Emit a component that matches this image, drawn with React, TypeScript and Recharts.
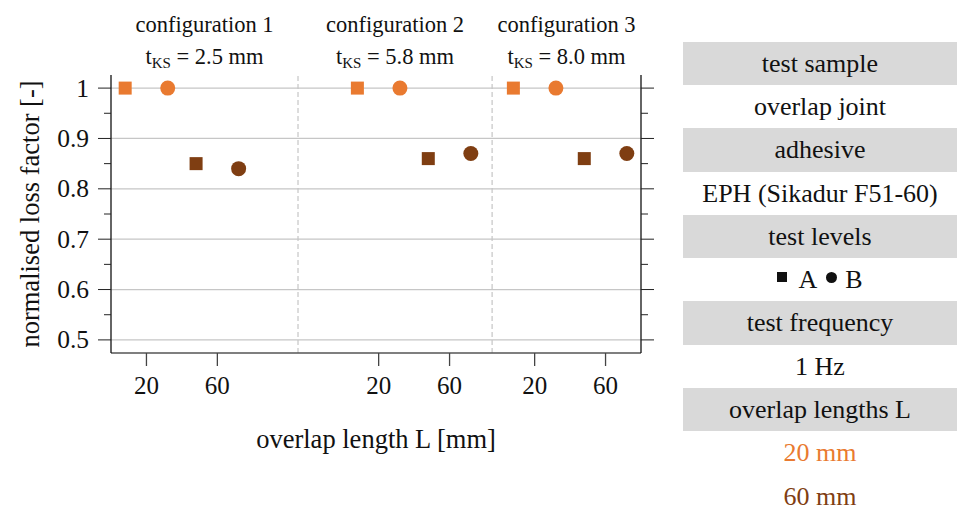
import React from 'react';
import { ScatterChart, Scatter, XAxis, YAxis, ReferenceLine, ReferenceArea } from 'recharts';

const FONT = '"Liberation Serif", "Times New Roman", serif';
const INK = '#111111';
const ORANGE = '#E97A30';
const BROWN = '#7F3E12';
const GRID = '#C6C6C6';
const BAND = '#D9D9D9';

// Test configurations and the thickness t_KS of each
const configurations = ['configuration 1', 'configuration 2', 'configuration 3'];
const thicknesses = ['2.5 mm', '5.8 mm', '8.0 mm'];

// Overlap lengths L [mm] and their tick labels
const overlapLengths = [20, 60];
const xTickLabels = ['20', '60'];

// Normalised loss factor, one value per configuration
const levelA_L20 = [1.0, 1.0, 1.0];
const levelB_L20 = [1.0, 1.0, 1.0];
const levelA_L60 = [0.85, 0.86, 0.86];
const levelB_L60 = [0.84, 0.87, 0.87];

// Value-axis ticks
const yMajorTicks = [0.5, 0.6, 0.7, 0.8, 0.9, 1.0];
const yMinorTicks = [0.55, 0.65, 0.75, 0.85, 0.95];

// Side table
const tableRows = [
  { text: 'test sample', band: true },
  { text: 'overlap joint' },
  { text: 'adhesive', band: true },
  { text: 'EPH (Sikadur F51-60)' },
  { text: 'test levels', band: true },
  { legend: ['A', 'B'] },
  { text: 'test frequency', band: true },
  { text: '1 Hz' },
  { text: 'overlap lengths L', band: true },
  { text: '20 mm', color: ORANGE },
  { text: '60 mm', color: BROWN },
];

// Layout of the three panels on one shared x axis (axis units ~ mm)
const X_DOMAIN: [number, number] = [0, 299];
const Y_DOMAIN: [number, number] = [0.474, 1.026];
const PANEL_ORIGIN = [0, 131, 219];
const PANEL_EDGES = [0, 105.5, 215, 299];
const LEVEL_SHIFT: Record<string, number> = { A: -12, B: 12 };

const W = 958;
const H = 509;
const PLOT_LEFT = 111;
const PLOT_RIGHT = 641;
const PLOT_TOP = 75;
const PLOT_BOTTOM = 353;
const RIGHT_AXIS_W = 20;
const X_AXIS_H = 100;

const series = [
  { key: 'A20', level: 'A', L: overlapLengths[0], values: levelA_L20, color: ORANGE },
  { key: 'B20', level: 'B', L: overlapLengths[0], values: levelB_L20, color: ORANGE },
  { key: 'A60', level: 'A', L: overlapLengths[1], values: levelA_L60, color: BROWN },
  { key: 'B60', level: 'B', L: overlapLengths[1], values: levelB_L60, color: BROWN },
];

const pointsOf = (s: (typeof series)[number]) =>
  s.values.map((v, i) => ({ x: PANEL_ORIGIN[i] + s.L + LEVEL_SHIFT[s.level], y: v }));

const xTicks = PANEL_ORIGIN.flatMap((o) => overlapLengths.map((L) => o + L));
const yTicks = [...yMajorTicks, ...yMinorTicks].sort((a, b) => a - b);
const isMajor = (v: number) => Math.abs(v * 10 - Math.round(v * 10)) < 1e-6;

const squareShape = (color: string) => (p: any) => (
  <rect x={p.cx - 6.5} y={p.cy - 6.5} width={13} height={13} fill={color} />
);
const circleShape = (color: string) => (p: any) => (
  <circle cx={p.cx} cy={p.cy} r={7.5} fill={color} />
);

function ValueTick(props: any) {
  const { x, y, payload, side } = props;
  const v = payload.value as number;
  const major = isMajor(v);
  const len = major ? 13 : 7;
  const dir = side === 'left' ? -1 : 1;
  return (
    <g>
      <line x1={x} x2={x + dir * len} y1={y} y2={y} stroke="#222" strokeWidth={1} />
      {major && side === 'left' ? (
        <text
          x={x - 22}
          y={y}
          textAnchor="end"
          dominantBaseline="central"
          fontFamily={FONT}
          fontSize={25.5}
          fill={INK}
        >
          {String(Math.round(v * 10) / 10)}
        </text>
      ) : null}
    </g>
  );
}

function PanelHeader({ viewBox, title, thickness }: any) {
  const cx = viewBox.x + viewBox.width / 2;
  const top = viewBox.y;
  return (
    <g fontFamily={FONT} fill={INK}>
      <text x={cx} y={top - 43} textAnchor="middle" fontSize={22.5}>
        {title}
      </text>
      <text x={cx} y={top - 11} textAnchor="middle" fontSize={22.5}>
        t
        <tspan fontSize={15} dy={4}>
          KS
        </tspan>
        <tspan dy={-4}>{' = ' + thickness}</tspan>
      </text>
    </g>
  );
}

function LegendRow({ levels }: { levels: string[] }) {
  return (
    <span>
      <span
        style={{ display: 'inline-block', width: 10, height: 10, background: INK, marginRight: 11, verticalAlign: '6px' }}
      />
      {levels[0]}
      <span
        style={{
          display: 'inline-block',
          width: 11,
          height: 11,
          borderRadius: '50%',
          background: INK,
          marginLeft: 9,
          marginRight: 8,
          verticalAlign: '5px',
        }}
      />
      {levels[1]}
    </span>
  );
}

export default function App() {
  return (
    <div style={{ position: 'absolute', left: 0, top: 0, width: W, height: H, background: '#fff' }}>
      <ScatterChart
        width={W}
        height={H}
        margin={{
          top: PLOT_TOP,
          left: 0,
          right: W - PLOT_RIGHT - RIGHT_AXIS_W,
          bottom: H - PLOT_BOTTOM - X_AXIS_H,
        }}
      >
        <XAxis
          xAxisId="main"
          type="number"
          dataKey="x"
          domain={X_DOMAIN}
          allowDataOverflow
          ticks={xTicks}
          interval={0}
          tickFormatter={(_v: number, i: number) => xTickLabels[i % overlapLengths.length]}
          height={X_AXIS_H}
          tickSize={13}
          tickMargin={10}
          axisLine={{ stroke: '#555', strokeWidth: 1.3 }}
          tickLine={{ stroke: '#444', strokeWidth: 1.3 }}
          tick={{ fontFamily: FONT, fontSize: 25, fill: INK }}
          label={(p: any) => (
            <text
              x={p.viewBox.x + p.viewBox.width / 2}
              y={p.viewBox.y + 95}
              textAnchor="middle"
              fontFamily={FONT}
              fontSize={26.5}
              fill={INK}
            >
              overlap length L [mm]
            </text>
          )}
        />
        <XAxis
          xAxisId="top"
          orientation="top"
          type="number"
          domain={X_DOMAIN}
          allowDataOverflow
          height={0}
          tick={false}
          tickLine={false}
          axisLine={{ stroke: '#111', strokeWidth: 1.3 }}
        />
        <YAxis
          yAxisId="left"
          type="number"
          dataKey="y"
          domain={Y_DOMAIN}
          allowDataOverflow
          ticks={yTicks}
          interval={0}
          width={PLOT_LEFT}
          tickSize={0}
          tickMargin={0}
          tickLine={false}
          axisLine={{ stroke: '#111', strokeWidth: 1.3 }}
          tick={(p: any) => <ValueTick {...p} side="left" />}
          label={(p: any) => {
            const cy = p.viewBox.y + p.viewBox.height / 2;
            return (
              <text
                x={30}
                y={cy}
                transform={`rotate(-90, 30, ${cy})`}
                textAnchor="middle"
                dominantBaseline="central"
                fontFamily={FONT}
                fontSize={26.5}
                fill={INK}
              >
                normalised loss factor [-]
              </text>
            );
          }}
        />
        <YAxis
          yAxisId="right"
          orientation="right"
          type="number"
          domain={Y_DOMAIN}
          allowDataOverflow
          ticks={yTicks}
          interval={0}
          width={RIGHT_AXIS_W}
          tickSize={0}
          tickMargin={0}
          tickLine={false}
          axisLine={{ stroke: '#111', strokeWidth: 1.3 }}
          tick={(p: any) => <ValueTick {...p} side="right" />}
        />

        {yMajorTicks.map((v) => (
          <ReferenceLine key={`g${v}`} xAxisId="main" yAxisId="left" y={v} stroke={GRID} strokeWidth={1.2} />
        ))}
        {PANEL_EDGES.slice(1, -1).map((e) => (
          <ReferenceLine
            key={`d${e}`}
            xAxisId="main"
            yAxisId="left"
            x={e}
            stroke={GRID}
            strokeWidth={1.2}
            strokeDasharray="5 3"
          />
        ))}
        {configurations.map((c, i) => (
          <ReferenceArea
            key={c}
            xAxisId="main"
            yAxisId="left"
            x1={PANEL_EDGES[i]}
            x2={PANEL_EDGES[i + 1]}
            fill="none"
            fillOpacity={0}
            strokeOpacity={0}
            label={(p: any) => <PanelHeader viewBox={p.viewBox} title={c} thickness={thicknesses[i]} />}
          />
        ))}

        {series.map((s) => (
          <Scatter
            key={s.key}
            xAxisId="main"
            yAxisId="left"
            data={pointsOf(s)}
            fill={s.color}
            shape={s.level === 'A' ? squareShape(s.color) : circleShape(s.color)}
            isAnimationActive={false}
          />
        ))}
      </ScatterChart>

      <div
        style={{
          position: 'absolute',
          left: 683,
          top: 41.7,
          width: 274,
          fontFamily: FONT,
          fontSize: 26,
          color: INK,
        }}
      >
        {tableRows.map((r, i) => (
          <div
            key={i}
            style={{
              height: 43.3,
              lineHeight: '43.3px',
              textAlign: 'center',
              whiteSpace: 'nowrap',
              background: r.band ? BAND : 'transparent',
              color: r.color || INK,
            }}
          >
            {r.legend ? <LegendRow levels={r.legend} /> : r.text}
          </div>
        ))}
      </div>
    </div>
  );
}
